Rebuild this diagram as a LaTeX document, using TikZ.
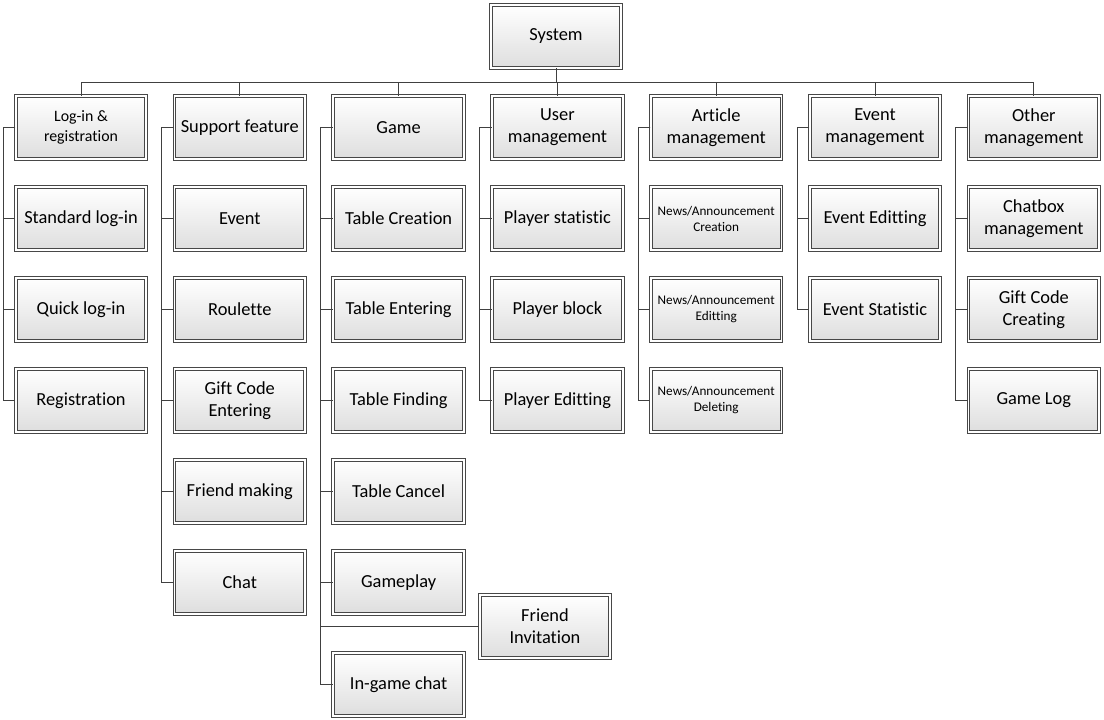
\documentclass[tikz,border=0pt]{standalone}
\usepackage{fontspec}
\setmainfont{Carlito}[Ligatures={NoCommon}]

\begin{document}
\begin{tikzpicture}
    [x=0.75pt, y=-0.75pt,
     box/.style={draw=black!72, line width=0.75pt, double=white, double distance=1.4pt,
       top color=white, bottom color=black!13, minimum width=98pt, minimum height=47pt,
       align=center, inner sep=2pt, font=\fontsize{13.8}{16.6}\selectfont},
     small text/.style={font=\fontsize{9.9}{12}\selectfont},
     mid text/.style={font=\fontsize{11.9}{14.6}\selectfont},
     link/.style={draw=black!75, line width=0.75pt}]
    \useasboundingbox (0, 0) rectangle (1104, 720);
    \coordinate (bus) at (556, 82.5);
    % top of the tree
    \node[box] (sys) at (556, 36.5) {System};
    \node[box, mid text] (login) at (81, 127.5) {Log-in \&\\registration};
    \node[box] (support) at (239.8, 127.5) {Support feature};
    \node[box] (game) at (398.6, 127.5) {Game};
    \node[box] (user) at (557.4, 127.5) {User\\management};
    \node[box] (article) at (716.2, 127.5) {Article\\management};
    \node[box] (event) at (875, 127.5) {Event\\management};
    \node[box] (other) at (1033.8, 127.5) {Other\\management};
    \draw[link] (sys.south) -- (bus);
    \foreach \n in {login, support, game, user, article, event, other}
      \draw[link] (\n.north) |- (bus);
    % children
    \foreach \t [count=\i] in {Standard log-in, Quick log-in, Registration}
      \node[box] (login-\i) at (81, {127.5+91*\i}) {\t};
    \foreach \t [count=\i] in {Event, Roulette, Gift Code\\Entering, Friend making, Chat}
      \node[box] (support-\i) at (239.8, {127.5+91*\i}) {\t};
    \foreach \t [count=\i] in {Table Creation, Table Entering, Table Finding, Table Cancel, Gameplay}
      \node[box] (game-\i) at (398.6, {127.5+91*\i}) {\t};
    \node[box] (game-6) at (545, 626.5) {Friend\\Invitation};
    \node[box] (game-7) at (398.6, 684.5) {In-game chat};
    \foreach \t [count=\i] in {Player statistic, Player block, Player Editting}
      \node[box] (user-\i) at (557.4, {127.5+91*\i}) {\t};
    \foreach \t [count=\i] in {Creation, Editting, Deleting}
      \node[box, small text] (article-\i) at (716.2, {127.5+91*\i}) {News/Announcement\\\t};
    \foreach \t [count=\i] in {Event Editting, Event Statistic}
      \node[box] (event-\i) at (875, {127.5+91*\i}) {\t};
    \foreach \t [count=\i] in {Chatbox\\management, Gift Code\\Creating, Game Log}
      \node[box] (other-\i) at (1033.8, {127.5+91*\i}) {\t};
    % side lines
    \foreach \i in {1,...,3} \draw[link] (login.west) -- ++(-12, 0) |- (login-\i.west);
    \foreach \i in {1,...,5} \draw[link] (support.west) -- ++(-12, 0) |- (support-\i.west);
    \foreach \i in {1,...,7} \draw[link] (game.west) -- ++(-12, 0) |- (game-\i.west);
    \foreach \i in {1,...,3} \draw[link] (user.west) -- ++(-12, 0) |- (user-\i.west);
    \foreach \i in {1,...,3} \draw[link] (article.west) -- ++(-12, 0) |- (article-\i.west);
    \foreach \i in {1,...,2} \draw[link] (event.west) -- ++(-12, 0) |- (event-\i.west);
    \foreach \i in {1,...,3} \draw[link] (other.west) -- ++(-12, 0) |- (other-\i.west);
  \end{tikzpicture}
\end{document}
